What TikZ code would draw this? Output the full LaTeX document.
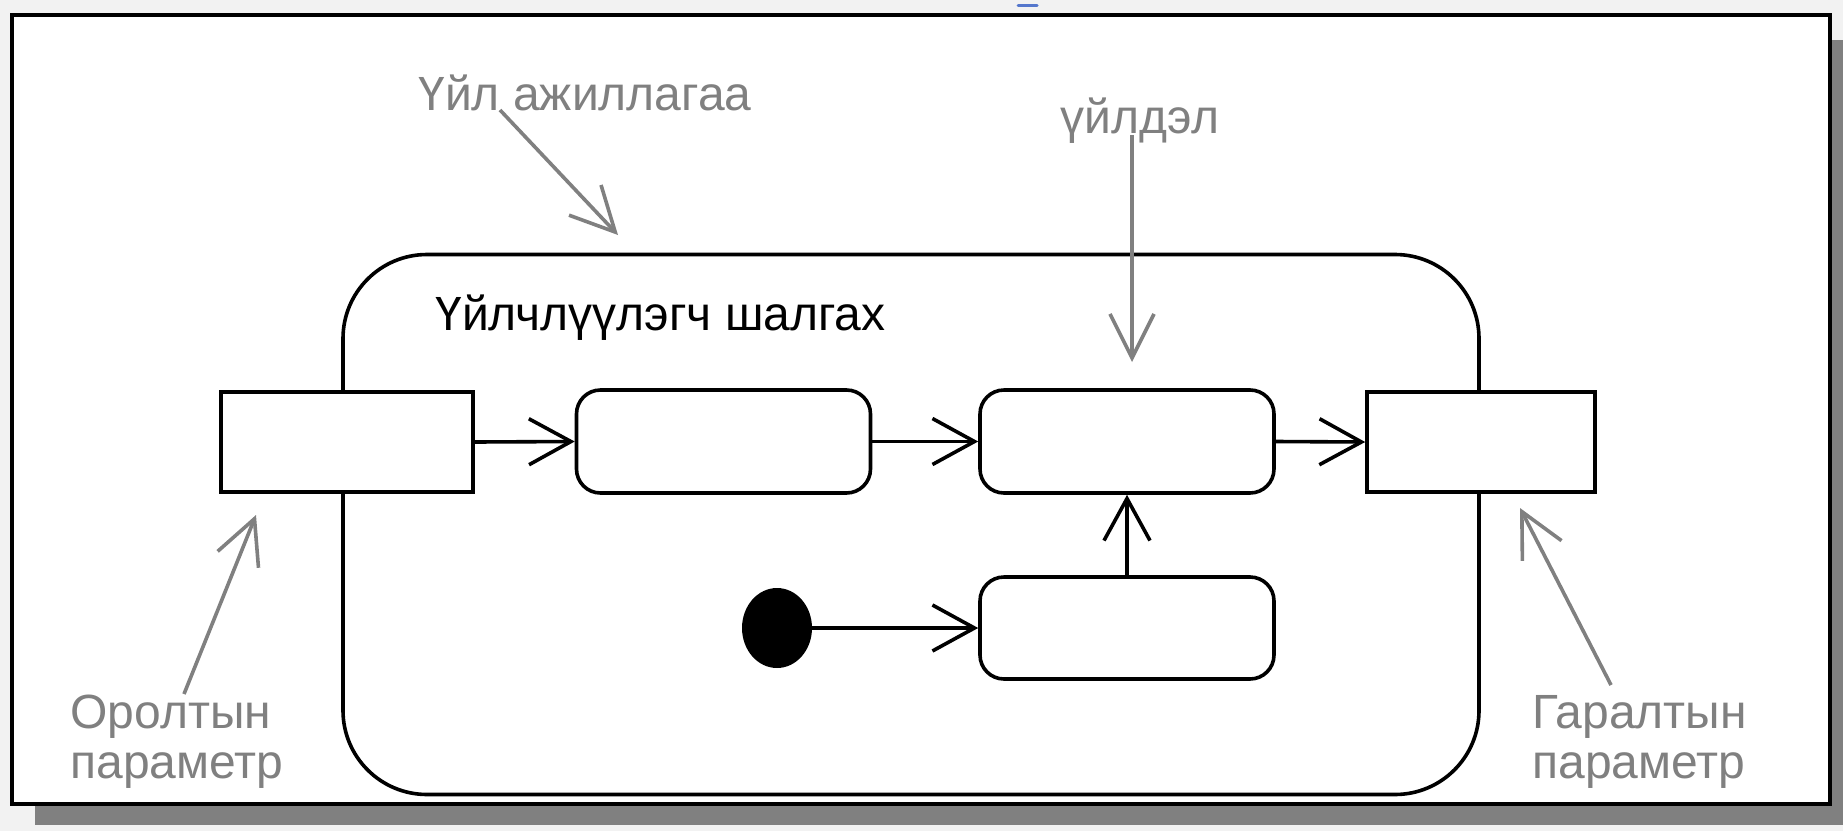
\documentclass[tikz,border=0pt]{standalone}
\usepackage{fontspec}
\setmainfont{Liberation Sans}
\usepackage{tikz}
\usetikzlibrary{arrows.meta}
\usetikzlibrary{positioning}
\usetikzlibrary{shapes.geometric}
\definecolor{notegray}{HTML}{808080}
\definecolor{shadowgray}{HTML}{808080}
\definecolor{paper}{HTML}{F2F2F2}
\definecolor{markblue}{HTML}{5577CC}
\tikzstyle{pin}=[draw,fill=white,line width=1.8pt,minimum width=126pt,minimum height=50pt,inner sep=0pt]
\tikzstyle{action}=[draw,fill=white,line width=1.8pt,rounded corners=12pt,minimum width=147pt,minimum height=51.5pt,inner sep=0pt]
\tikzstyle{initial}=[fill=black,ellipse,minimum width=35pt,minimum height=40pt,inner sep=0pt]
\tikzstyle{flow}=[line width=1.8pt,-{Straight Barb[length=21pt,width=23pt]}]
\tikzstyle{note}=[text=notegray,font=\fontsize{24}{25}\selectfont,inner sep=0pt,align=left]
\tikzstyle{callout}=[draw=notegray,line width=1.8pt,-{Straight Barb[length=22pt,width=22pt]}]

\begin{document}
\begin{tikzpicture}[x=0.5pt,y=-0.5pt]
\useasboundingbox (0,0) rectangle (1843,831);
\fill[paper] (0,0) rectangle (1843,831);
\fill[shadowgray] (35,40) rectangle (1843,825);
\draw[line width=1.6pt,fill=white] (12,15) rectangle (1830,804);
\draw[markblue,line width=1.5pt,line cap=round] (1018,5) -- (1037,5);

% activity frame
\node [draw,line width=1.8pt,rounded corners=42pt,minimum width=568pt,minimum height=270pt] (act) at (911,524.5) {};
\node [anchor=base west,font=\fontsize{24}{25}\selectfont,inner sep=0pt] (actname) at (435,330) {Үйлчлүүлэгч шалгах};

\node [pin] (pinin) at (347,442) {};
\node [pin,minimum width=114pt] (pinout) at (1481,442) {};
\node [action] (actA) at (723.5,441.5) {};
\node [action] (actB) at (1127,441.5) {};
\node [action,minimum height=51pt] (actC) at (1127,628) {};
\node [initial] (init) at (777,628) {};

\draw[flow] (pinin.east) -- (actA.west);
\draw[flow] (actA.east) -- (actB.west);
\draw[flow] (actB.east) -- (pinout.west);
\draw[flow] (init) -- (actC.west);
\draw[flow] (actC) -- (actB);

% callouts
\node [note,anchor=base west] (lblaction) at (418,110) {Үйл ажиллагаа};
\node [note,anchor=base west] (lblnode) at (1060,133) {үйлдэл};
\node [note,anchor=base west] (lblin) at (70,778) {Оролтын\\параметр};
\node [note,anchor=base west] (lblout) at (1532,778) {Гаралтын\\параметр};

\coordinate (fromaction) at (500,110);
\coordinate (toaction) at (618,235);
\coordinate (fromnode) at (1132,135);
\coordinate (tonode) at (1132,362);
\coordinate (fromin) at (184,694);
\coordinate (toin) at (256,515);
\coordinate (fromout) at (1611,685);
\coordinate (toout) at (1520,508);
\draw[callout] (fromaction) -- (toaction);
\draw[callout] (fromnode) -- (tonode);
\draw[callout] (fromin) -- (toin);
\draw[callout] (fromout) -- (toout);
\end{tikzpicture}
\end{document}
